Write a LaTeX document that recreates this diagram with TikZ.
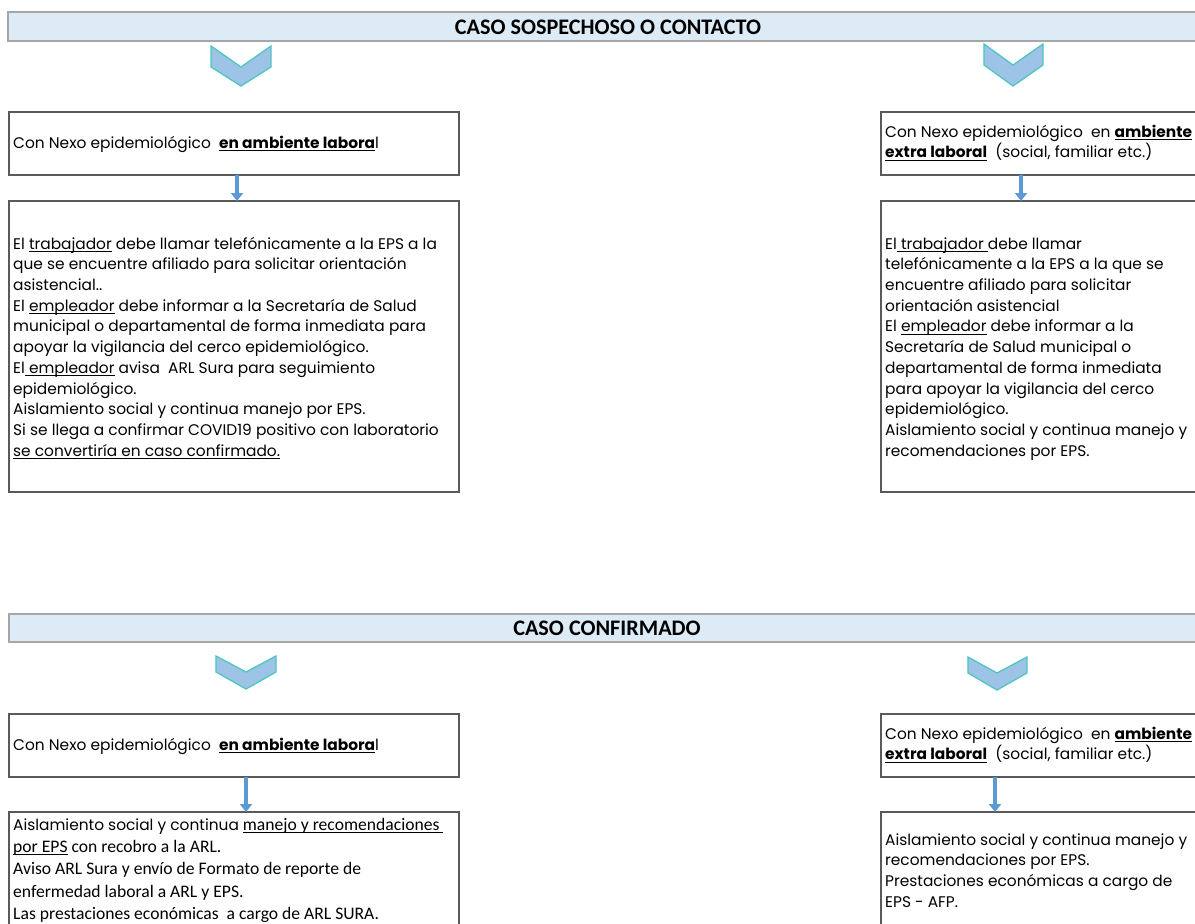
\documentclass[tikz,border=0pt]{standalone}
\usepackage{fontspec}
\setmainfont{Poppins}
\newfontfamily\calfont{Carlito}
\usetikzlibrary{arrows.meta}
\definecolor{boxgray}{HTML}{5A5A5A}
\definecolor{bangray}{HTML}{A6A6A6}
\definecolor{banfill}{HTML}{DDEBF7}
\definecolor{chevfill}{HTML}{9DC3E6}
\definecolor{chevedge}{HTML}{4FC6BE}
\definecolor{arrowblue}{HTML}{5B9BD5}
\newsavebox\ulbox
\newcommand\ulx[1]{\sbox\ulbox{#1}\rlap{\rule[-2.6pt]{\wd\ulbox}{0.9pt}}\usebox{\ulbox}}
\begin{document}
\begin{tikzpicture}[x=1pt,y=-1pt,
  box/.style={draw=boxgray, line width=1.8pt, anchor=north west, inner sep=0pt, outer sep=0pt},
  banner/.style={draw=bangray, fill=banfill, line width=1.5pt},
  chev/.style={draw=chevedge, fill=chevfill, line width=1.3pt, line join=miter},
  flow/.style={draw=arrowblue, line width=3.5pt, -{Triangle[width=12pt,length=8pt]}},
  txt/.style={anchor=north west, inner sep=0pt, align=left, font=\fontsize{15.4}{20.7}\selectfont},
  ctxt/.style={anchor=north west, inner sep=0pt, align=left, font=\calfont\fontsize{17.6}{22.3}\selectfont},
  title/.style={font=\calfont\bfseries\fontsize{22.2}{24}\selectfont, inner sep=0pt}]
\useasboundingbox (0,0) rectangle (1195,924);
\clip (0,0) rectangle (1195,924);

% ---------- top section ----------
\draw[banner] (8,12) rectangle (1205,41);
\node[title] (t1) at (608,27) {CASO SOSPECHOSO O CONTACTO};

\draw[chev] (211,46) -- (241,67) -- (271,46) -- (271,67) -- (241,86) -- (211,67) -- cycle;
\draw[chev] (984,44) -- (1013,65) -- (1043,44) -- (1043,65) -- (1013,86) -- (984,65) -- cycle;

\node[box, minimum width=450pt, minimum height=63pt] (b1) at (9,112) {};
\node[box, minimum width=450pt, minimum height=291pt] (b2) at (9,201) {};
\node[box, minimum width=330pt, minimum height=63pt] (b3) at (881,112) {};
\node[box, minimum width=330pt, minimum height=291pt] (b4) at (881,201) {};

\coordinate (xl1) at (237,0);
\coordinate (xr1) at (1021,0);
\draw[flow] (b1.south -| xl1) -- (b2.north -| xl1);
\draw[flow] (b3.south -| xr1) -- (b4.north -| xr1);

\node[txt] (tx1) at (13,133.5) {\strut Con Nexo epidemiológico\ \ \textbf{\ulx{en ambiente labora}}l};
\node[txt] (tx2) at (13,234.5) {\strut El \ulx{trabajador} debe llamar telefónicamente a la EPS a la\\
que se encuentre afiliado para solicitar orientación\\
asistencial..\\
El \ulx{empleador} debe informar a la Secretaría de Salud\\
municipal o departamental de forma inmediata para\\
apoyar la vigilancia del cerco epidemiológico.\\
El\ulx{ empleador} avisa\ \ ARL Sura para seguimiento\\
epidemiológico.\\
Aislamiento social y continua manejo por EPS.\\
Si se llega a confirmar COVID19 positivo con laboratorio\\
\ulx{se convertiría en caso confirmado.}};
\node[txt] (tx3) at (885,122.5) {\strut Con Nexo epidemiológico\ \ en \textbf{\ulx{ambiente}}\\
\textbf{\ulx{extra laboral}}\ \ (social, familiar etc.)};
\node[txt] (tx4) at (885,234.5) {\strut El\ulx{ trabajador }debe llamar\\
telefónicamente a la EPS a la que se\\
encuentre afiliado para solicitar\\
orientación asistencial\\
El \ulx{empleador} debe informar a la\\
Secretaría de Salud municipal o\\
departamental de forma inmediata\\
para apoyar la vigilancia del cerco\\
epidemiológico.\\
Aislamiento social y continua manejo y\\
recomendaciones por EPS.};

% ---------- bottom section ----------
\draw[banner] (9,614) rectangle (1205,642);
\node[title] (t2) at (607,628) {CASO CONFIRMADO};

\draw[chev] (216,656) -- (246,672) -- (276,656) -- (276,672) -- (246,689) -- (216,672) -- cycle;
\draw[chev] (968,657) -- (997,673) -- (1027,657) -- (1027,673) -- (997,690) -- (968,673) -- cycle;

\node[box, minimum width=450pt, minimum height=63pt] (b5) at (9,714) {};
\node[box, minimum width=450pt, minimum height=150pt] (b6) at (9,812) {};
\node[box, minimum width=330pt, minimum height=63pt] (b7) at (881,714) {};
\node[box, minimum width=330pt, minimum height=150pt] (b8) at (881,812) {};

\coordinate (xl2) at (246,0);
\coordinate (xr2) at (995,0);
\draw[flow] (b5.south -| xl2) -- (b6.north -| xl2);
\draw[flow] (b7.south -| xr2) -- (b8.north -| xr2);

\node[txt] (tx5) at (13,735.5) {\strut Con Nexo epidemiológico\ \ \textbf{\ulx{en ambiente labora}}l};
\node[ctxt] (tx6) at (13,814.4) {\strut{\fontspec{Poppins}\fontsize{15.4}{22.3}\selectfont Aislamiento social y continua} \ulx{manejo y recomendaciones }\\
\ulx{por EPS} con recobro a la ARL.\\
Aviso ARL Sura y envío de Formato de reporte de\\
enfermedad laboral a ARL y EPS.\\
Las prestaciones económicas\ \ a cargo de ARL SURA.};
\node[txt] (tx7) at (885,724.5) {\strut Con Nexo epidemiológico\ \ en \textbf{\ulx{ambiente}}\\
\textbf{\ulx{extra laboral}}\ \ (social, familiar etc.)};
\node[txt] (tx8) at (885,830.5) {\strut Aislamiento social y continua manejo y\\
recomendaciones por EPS.\\
Prestaciones económicas a cargo de\\
EPS - AFP.};
\end{tikzpicture}
\end{document}
